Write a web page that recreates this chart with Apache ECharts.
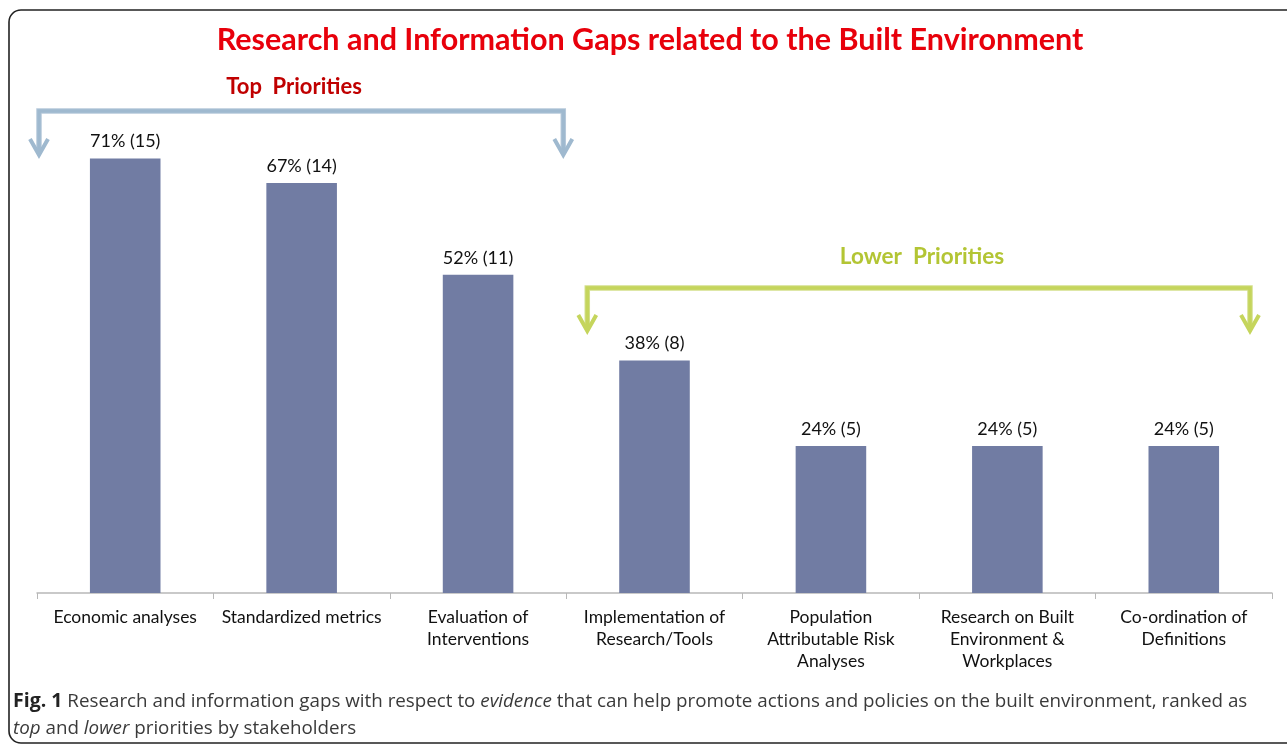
<!DOCTYPE html>
<html><head><meta charset="utf-8">
<script src="https://cdn.jsdelivr.net/npm/echarts@6/dist/echarts.min.js"></script>
<style>html,body{margin:0;padding:0;background:#fff}#c{width:1287px;height:745px}</style>
</head><body><div id="c"></div>
<script>
const categories = ['Economic analyses','Standardized metrics','Evaluation of\nInterventions','Implementation of\nResearch/Tools','Population\nAttributable Risk\nAnalyses','Research on Built\nEnvironment &\nWorkplaces','Co-ordination of\nDefinitions'];
const percents = [71, 67, 52, 38, 24, 24, 24];
const counts = [15, 14, 11, 8, 5, 5, 5];
const titleText = 'Research and Information Gaps related to the Built Environment';

const chart = echarts.init(document.getElementById('c'), null, {renderer:'canvas'});
const FONT = 'Lato';
const gridLeft = 37, gridRight = 15, gridBottom = 152, gridTop = 103.4;

function buildGraphics(){
  const xl = chart.convertToPixel({xAxisIndex:0}, 0);
  const step = chart.convertToPixel({xAxisIndex:0}, 1) - xl;
  const g = [];
  g.push({type:'rect', shape:{x:9,y:10,width:1290,height:733,r:12}, style:{fill:null, stroke:'#222', lineWidth:1.6}, z:0});
  function bracket(x1, x2, y, yEnd, color, edge){
    g.push({type:'polyline', shape:{points:[[x1,yEnd-4],[x1,y],[x2,y],[x2,yEnd-4]]}, style:{stroke:edge, lineWidth:5.5, fill:null, lineJoin:'miter'}, z:5});
    g.push({type:'polyline', shape:{points:[[x1,yEnd-4],[x1,y],[x2,y],[x2,yEnd-4]]}, style:{stroke:color, lineWidth:3.5, fill:null, lineJoin:'miter'}, z:6});
    [x1,x2].forEach(x=>{
      g.push({type:'polyline', shape:{points:[[x-9,yEnd-16],[x,yEnd],[x+9,yEnd-16]]}, style:{stroke:color, lineWidth:4, fill:null}, z:6});
    });
  }
  bracket(xl - step/2 + 2, xl + step*2.5 - 3, 111, 155, '#9fb9cf', '#b6c9da');
  bracket(xl + step*2.5 + 21, xl + step*6.5 - 22, 288, 331, '#c5d55c', '#d3df8a');
  g.push({type:'text', style:{text:titleText, x:650, y:25, font:'bold 30.5px '+FONT, fill:'#e8000b', textAlign:'center'}});
  g.push({type:'text', style:{text:'Top  Priorities', x:294, y:76, font:'bold 22px '+FONT, fill:'#c00000', textAlign:'center'}});
  g.push({type:'text', style:{text:'Lower  Priorities', x:922, y:245, font:'bold 22.5px '+FONT, fill:'#b3c534', textAlign:'center'}});
  g.push({type:'text', style:{
    text:'{b|Fig. 1} Research and information gaps with respect to {i|evidence} that can help promote actions and policies on the built environment, ranked as\n{i|top} and {i|lower} priorities by stakeholders',
    x:13, y:688, font:'18.8px "Open Sans"', fill:'#3a3a3a', lineHeight:27,
    rich:{b:{font:'bold 19.5px "Open Sans"', fill:'#222'}, i:{font:'italic 18.8px "Open Sans"', fill:'#3a3a3a'}}
  }});
  return g;
}

chart.setOption({
  animation:false,
  grid:{left:gridLeft, right:gridRight, top:gridTop, bottom:gridBottom, containLabel:false},
  xAxis:{type:'category', data:categories,
    axisLine:{lineStyle:{color:'#b8b8b8', width:1.5}},
    axisTick:{show:true, alignWithLabel:false, length:6, lineStyle:{color:'#b8b8b8'}},
    axisLabel:{interval:0, color:'#111', fontFamily:FONT, fontSize:17.5, lineHeight:22, margin:13}
  },
  yAxis:{type:'value', min:0, max:80, show:false, splitLine:{show:false}},
  series:[{type:'bar', data:percents, barWidth:'40%', itemStyle:{color:'#717ca3'},
    label:{show:true, position:'top', distance:8, color:'#111', fontFamily:FONT, fontSize:18,
      formatter:p=>p.value+'% ('+counts[p.dataIndex]+')'}}]
});
chart.setOption({graphic:buildGraphics()});
</script></body></html>
